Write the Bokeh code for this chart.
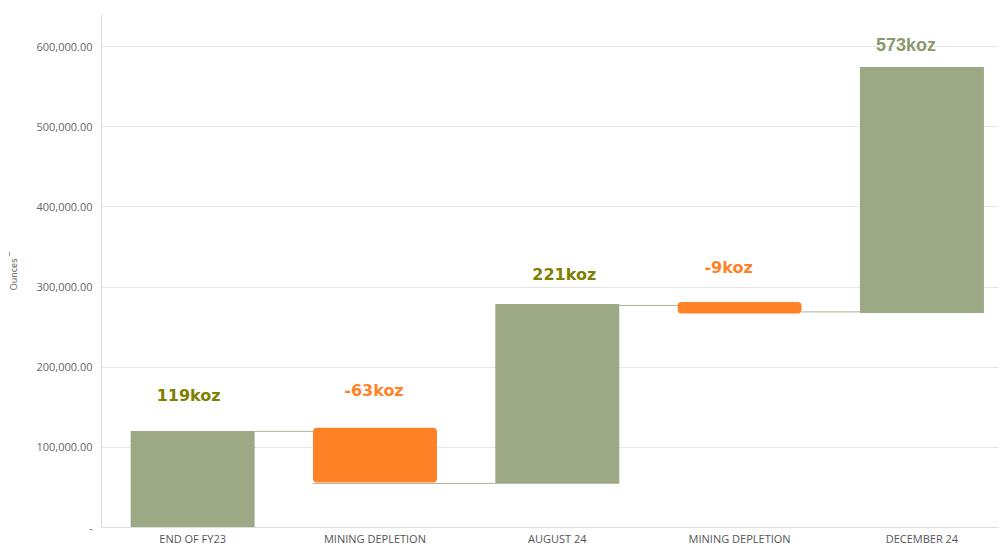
from bokeh.plotting import figure
from bokeh.models import Range1d, ColumnDataSource, FixedTicker
from bokeh.core.properties import value
from bokeh.embed import file_html
from bokeh.resources import INLINE

categories = ["END OF FY23", "MINING DEPLETION", "AUGUST 24", "MINING DEPLETION", "DECEMBER 24"]
bar_bottom = [0, 56000, 54500, 267000, 267700]
bar_top = [120400, 124600, 278900, 281300, 574400]
kinds = ["total", "change", "total", "change", "total"]
labels = ["119koz", "-63koz", "221koz", "-9koz", "573koz"]
y_ticks = [0, 100000, 200000, 300000, 400000, 500000, 600000]

# connector levels between consecutive bars
conn_level = [120000, 55000, 277000, 269000]

GREEN = "#9da884"
ORANGE = "#ff8227"

p = figure(width=1000, height=548, output_backend="svg", toolbar_location=None,
           x_range=Range1d(-0.5, 4.42), y_range=Range1d(0, 640000),
           min_border_left=101, min_border_right=2, min_border_top=14, min_border_bottom=0)
p.outline_line_color = None
p.background_fill_color = "white"
p.border_fill_color = "white"

bw = 0.68
xs = list(range(len(categories)))

# connectors
seg_x0, seg_x1 = [], []
for i in range(len(conn_level)):
    if i == 1:
        seg_x0.append(xs[i] - bw / 2)
    else:
        seg_x0.append(xs[i] + bw / 2)
    seg_x1.append(xs[i + 1] - bw / 2)
p.segment(x0=seg_x0, y0=conn_level, x1=seg_x1, y1=conn_level, line_color="#aab39a", line_width=1)

tot = [i for i, k in enumerate(kinds) if k == "total"]
chg = [i for i, k in enumerate(kinds) if k == "change"]

p.quad(left=[xs[i] - bw / 2 for i in tot], right=[xs[i] + bw / 2 for i in tot],
       bottom=[bar_bottom[i] for i in tot], top=[bar_top[i] for i in tot],
       fill_color=GREEN, line_color=None)
p.quad(left=[xs[i] - bw / 2 for i in chg], right=[xs[i] + bw / 2 for i in chg],
       bottom=[bar_bottom[i] for i in chg], top=[bar_top[i] for i in chg],
       fill_color=ORANGE, line_color=None, border_radius=4)

# labels
lab_colors = ["#7f7f00", ORANGE, "#7f7f00", ORANGE, "#8b9a6b"]
lab_xoff = [-4, -1, 7, -11, -16]
lab_yoff = [-35, -37, -29, -35, -22]
src1 = ColumnDataSource(dict(x=xs[:4], y=bar_top[:4], t=labels[:4], c=lab_colors[:4],
                             xo=lab_xoff[:4], yo=lab_yoff[:4]))
p.text(x="x", y="y", text="t", text_color="c", x_offset="xo", y_offset="yo", source=src1,
       text_font=value("DejaVu Sans"), text_font_style="bold", text_font_size="16px",
       text_align="center", text_baseline="middle")
src2 = ColumnDataSource(dict(x=xs[4:], y=bar_top[4:], t=labels[4:], c=lab_colors[4:],
                             xo=lab_xoff[4:], yo=lab_yoff[4:]))
p.text(x="x", y="y", text="t", text_color="c", x_offset="xo", y_offset="yo", source=src2,
       text_font=value("Liberation Sans"), text_font_style="bold", text_font_size="18px",
       text_align="center", text_baseline="middle")

# axes
p.xaxis.ticker = FixedTicker(ticks=xs)
p.xaxis.major_label_overrides = {i: c for i, c in enumerate(categories)}
p.xaxis.major_label_text_font = "Open Sans"
p.xaxis.major_label_text_font_size = "11px"
p.xaxis.major_label_text_color = "#555555"
p.xaxis.major_label_standoff = 3
p.xaxis.major_tick_out = 0
p.xaxis.major_tick_in = 0
p.xaxis.major_tick_line_color = None
p.xaxis.minor_tick_line_color = None
p.xaxis.axis_line_color = "#dddddd"

p.yaxis.ticker = FixedTicker(ticks=y_ticks)
p.yaxis.major_label_overrides = {t: ("-" if t == 0 else f"{t:,.2f}") for t in y_ticks}
p.yaxis.major_label_text_font = "Open Sans"
p.yaxis.major_label_text_font_size = "11px"
p.yaxis.major_label_text_color = "#666666"
p.yaxis.major_label_standoff = 9
p.yaxis.major_tick_out = 0
p.yaxis.major_tick_in = 0
p.yaxis.major_tick_line_color = None
p.yaxis.minor_tick_line_color = None
p.yaxis.axis_line_color = "#dddddd"
p.yaxis.axis_label = "Ounces \u00af"
p.yaxis.axis_label_text_font = "Open Sans"
p.yaxis.axis_label_text_font_size = "9px"
p.yaxis.axis_label_text_font_style = "normal"
p.yaxis.axis_label_text_color = "#555555"
p.yaxis.axis_label_standoff = 13

p.xgrid.grid_line_color = None
p.ygrid.grid_line_color = "#e6e6e6"

open("out.html", "w").write(file_html(p, INLINE))
